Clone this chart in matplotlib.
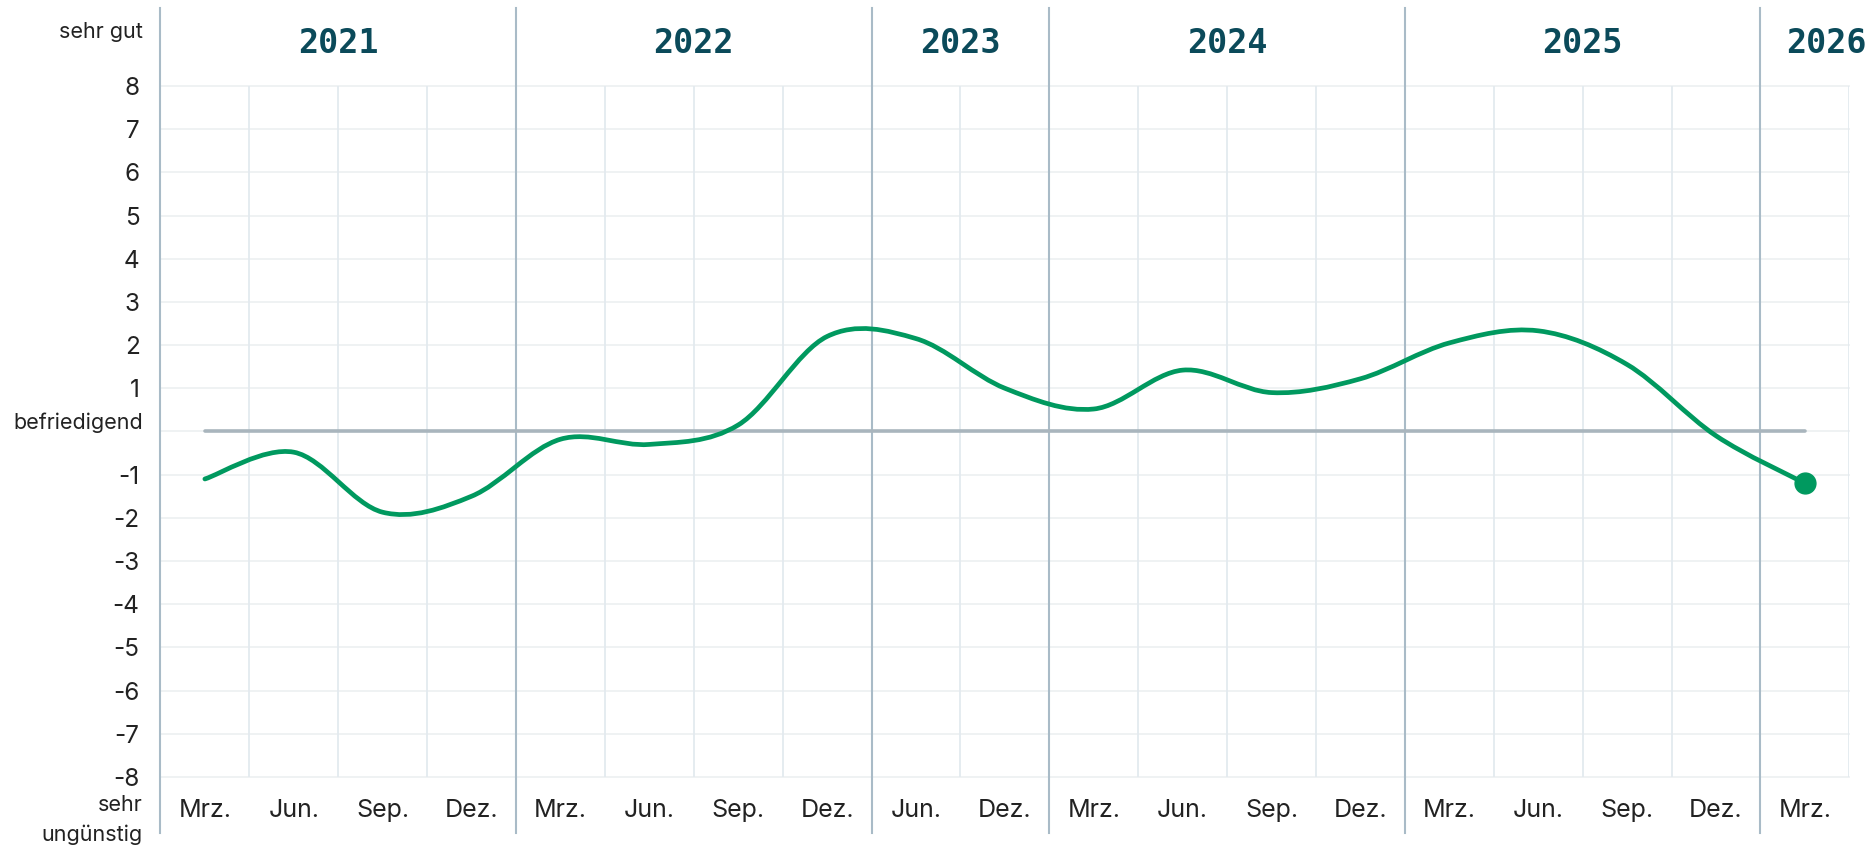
import numpy as np
import matplotlib.pyplot as plt
from matplotlib.path import Path
from matplotlib.patches import PathPatch

# quarters shown on the x axis, with the year each belongs to
months = ['Mrz.', 'Jun.', 'Sep.', 'Dez.',
          'Mrz.', 'Jun.', 'Sep.', 'Dez.',
          'Jun.', 'Dez.',
          'Mrz.', 'Jun.', 'Sep.', 'Dez.',
          'Mrz.', 'Jun.', 'Sep.', 'Dez.',
          'Mrz.']
years = [2021] * 4 + [2022] * 4 + [2023] * 2 + [2024] * 4 + [2025] * 4 + [2026]
values = [-1.1, -0.48, -1.87, -1.5, -0.18, -0.3, 0.15, 2.2, 2.15, 1.0,
          0.52, 1.42, 0.9, 1.22, 2.05, 2.33, 1.55, -0.1, -1.2]
y_ticks = list(range(-8, 9))
y_ticklabels = [str(v) if v != 0 else '' for v in y_ticks]

GREEN = '#00995f'
TEAL = '#0b4a5a'
YEARLINE = '#a9bbc7'
MINOR = '#e3eaef'
HGRID = '#eef1f2'
ZERO = '#a9b5bd'
TXT = '#222222'

plt.rcParams['font.family'] = ['Inter', 'DejaVu Sans']

fig = plt.figure(figsize=(18.72, 8.46), dpi=100)
ax = fig.add_axes([0.0857, 0.0816, 0.9022, 0.8168])

x = np.arange(len(values))
y = np.array(values, dtype=float)
n = len(x)

ax.set_xlim(-0.5, n - 0.5)
ax.set_ylim(-8, 8)
for s in ax.spines.values():
    s.set_visible(False)

# horizontal grid
for v in y_ticks:
    ax.plot([-0.5, n - 0.5], [v, v], color=HGRID, lw=1.3, zorder=1, clip_on=False)

# vertical separators: year boundaries long and darker, quarter boundaries light
bounds = np.arange(n + 1) - 0.5
yr_bounds = [-0.5] + [i - 0.5 for i in range(1, n) if years[i] != years[i - 1]]
for b in bounds:
    if b in yr_bounds:
        ax.plot([b, b], [-0.081, 1.113], color=YEARLINE, lw=1.5, zorder=2,
                transform=ax.get_xaxis_transform(), clip_on=False)
    else:
        ax.plot([b, b], [-8, 8], color=MINOR, lw=1.3, zorder=1.5)

# "befriedigend" reference line
ax.plot([x[0], x[-1]], [0, 0], color=ZERO, lw=2.6, zorder=3, solid_capstyle='round')

# smooth line through the points (Catmull-Rom as cubic bezier)
pts = np.column_stack([x, y]).astype(float)
ext = np.vstack([pts[0], pts, pts[-1]])
verts = [tuple(pts[0])]
codes = [Path.MOVETO]
for i in range(n - 1):
    p0, p1, p2, p3 = ext[i], ext[i + 1], ext[i + 2], ext[i + 3]
    c1 = p1 + (p2 - p0) / 6.0
    c2 = p2 - (p3 - p1) / 6.0
    verts += [tuple(c1), tuple(c2), tuple(p2)]
    codes += [Path.CURVE4] * 3
ax.add_patch(PathPatch(Path(verts, codes), facecolor='none', edgecolor=GREEN,
                       lw=3.4, zorder=4, capstyle='round'))
ax.plot(x[-1], y[-1], 'o', color=GREEN, ms=15, zorder=5)

# axes labels
ax.set_yticks(y_ticks)
ax.set_yticklabels(y_ticklabels, fontsize=17.5, color=TXT)
ax.set_xticks(x)
ax.set_xticklabels(months, fontsize=18, color=TXT)
ax.tick_params(axis='y', length=0, pad=15)
ax.tick_params(axis='x', length=0, pad=16)

ax.text(-0.0105, 1.078, 'sehr gut', transform=ax.transAxes, ha='right', va='center',
        fontsize=15.5, color=TXT)
ax.text(-0.0105, 0.2, 'befriedigend', transform=ax.get_yaxis_transform(), ha='right',
        va='center', fontsize=15.5, color=TXT)
ax.text(-0.0105, -0.04, 'sehr', transform=ax.transAxes, ha='right', va='center',
        fontsize=15.5, color=TXT)
ax.text(-0.0105, -0.084, 'ungünstig', transform=ax.transAxes, ha='right', va='center',
        fontsize=15.5, color=TXT)

# year headers centred over each section (last one pushed to the right edge)
edges = yr_bounds + [n - 0.5]
for k in range(len(edges) - 1):
    lo, hi = edges[k], edges[k + 1]
    yr = years[int(lo + 0.5)]
    if k == len(edges) - 2:
        ax.text(1.0104, 1.062, str(yr), transform=ax.transAxes, ha='right',
                va='center', fontsize=24, fontweight='bold', color=TEAL,
                family='DejaVu Sans Mono')
    else:
        ax.text((lo + hi) / 2, 1.062, str(yr), transform=ax.get_xaxis_transform(),
                ha='center', va='center', fontsize=24, fontweight='bold', color=TEAL,
                family='DejaVu Sans Mono')

fig.savefig('out.png', dpi=100)
